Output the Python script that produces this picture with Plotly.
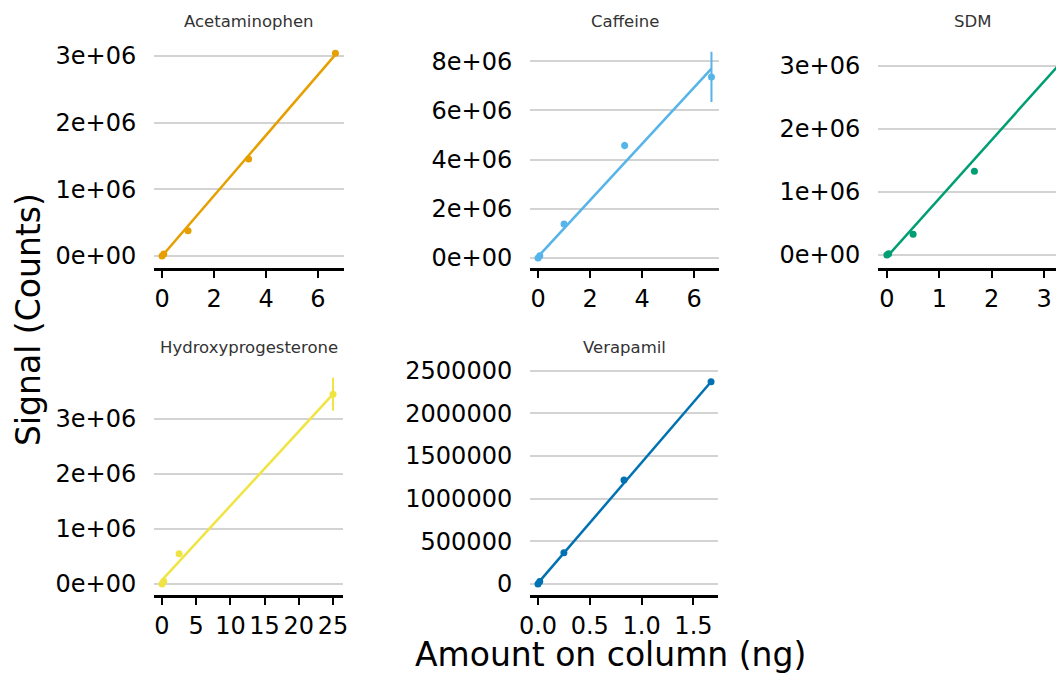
import plotly.graph_objects as go

# ---------------- data ----------------
compounds = ["Acetaminophen", "Caffeine", "SDM", "Hydroxyprogesterone", "Verapamil"]
colors = ["#E69F00", "#56B4E9", "#009E73", "#F0E442", "#0072B2"]

acet_x = [0, 0.067, 1.0, 3.33, 6.67]
acet_y = [0, 30000, 378000, 1455000, 3040000]
acet_err = [0, 0, 0, 20000, 20000]

caff_x = [0, 0.067, 1.0, 3.33, 6.67]
caff_y = [0, 90000, 1380000, 4570000, 7360000]
caff_err = [0, 0, 60000, 150000, 1020000]

sdm_x = [0, 0.033, 0.5, 1.67, 3.33]
sdm_y = [0, 20000, 330000, 1330000, 3200000]
sdm_err = [0, 0, 20000, 40000, 20000]

ohp_x = [0, 0.25, 2.5, 25.0]
ohp_y = [0, 50000, 550000, 3450000]
ohp_err = [0, 0, 20000, 300000]

vera_x = [0, 0.017, 0.25, 0.83, 1.67]
vera_y = [0, 30000, 365000, 1220000, 2370000]
vera_err = [0, 0, 10000, 20000, 20000]

# fitted calibration lines: value at x=0 and at the largest amount
fit_start = [0, 50000, -30000, 70000, 10000]
fit_end = [3020000, 7700000, 3060000, 3450000, 2370000]

# tick values / labels
x_ticks = [[0, 2, 4, 6], [0, 2, 4, 6], [0, 1, 2, 3], [0, 5, 10, 15, 20, 25], [0.0, 0.5, 1.0, 1.5]]
x_ticktext = [["0", "2", "4", "6"], ["0", "2", "4", "6"], ["0", "1", "2", "3"],
              ["0", "5", "10", "15", "20", "25"], ["0.0", "0.5", "1.0", "1.5"]]
y_ticks = [[0, 1e6, 2e6, 3e6], [0, 2e6, 4e6, 6e6, 8e6], [0, 1e6, 2e6, 3e6], [0, 1e6, 2e6, 3e6],
           [0, 500000, 1000000, 1500000, 2000000, 2500000]]
y_ticktext = [["0e+00", "1e+06", "2e+06", "3e+06"],
              ["0e+00", "2e+06", "4e+06", "6e+06", "8e+06"],
              ["0e+00", "1e+06", "2e+06", "3e+06"],
              ["0e+00", "1e+06", "2e+06", "3e+06"],
              ["0", "500000", "1000000", "1500000", "2000000", "2500000"]]

xs = [acet_x, caff_x, sdm_x, ohp_x, vera_x]
ys = [acet_y, caff_y, sdm_y, ohp_y, vera_y]
errs = [acet_err, caff_err, sdm_err, ohp_err, vera_err]

# ---------------- layout (pixel geometry of the 1064x673 window) ----------------
OFF = 8                       # page body margin of the browser
W, H = 1064 - OFF, 673 - OFF  # figure size so that it fills the window
px_x = [(154, 344), (530, 719), (878, 1064), (154, 343), (530, 718)]
px_y = [(40, 268), (40, 268), (40, 268), (365, 595), (365, 595)]
x_ranges = [(-0.31, 7.0), (-0.31, 6.96), (-0.17, 3.38), (-1.17, 26.46), (-0.077, 1.737)]
y_ranges = [(-0.18e6, 3.24e6), (-0.41e6, 8.86e6), (-0.206e6, 3.41e6), (-0.2e6, 3.98e6), (-0.129e6, 2.567e6)]


def fx(p):
    return (p - OFF) / W


def fy(p):
    return 1 - (p - OFF) / H


FONT = "DejaVu Sans"
fig = go.Figure()
layout = {}
annotations = []

for i in range(5):
    n = "" if i == 0 else str(i + 1)
    xa, ya = "x" + n, "y" + n
    c = colors[i]
    fig.add_trace(go.Scatter(
        x=xs[i], y=ys[i], mode="markers", xaxis=xa, yaxis=ya,
        marker=dict(color=c, size=7),
        error_y=dict(type="data", array=errs[i], visible=True, color=c, thickness=2, width=0),
        showlegend=False, hoverinfo="x+y"))
    fig.add_trace(go.Scatter(
        x=[0, max(xs[i])], y=[fit_start[i], fit_end[i]], mode="lines", xaxis=xa, yaxis=ya,
        line=dict(color=c, width=2.5), showlegend=False, hoverinfo="skip"))

    x0, x1 = px_x[i]
    top, bot = px_y[i]
    layout["xaxis" + n] = dict(
        domain=[fx(x0), min(1.0, fx(x1))], anchor=ya, range=list(x_ranges[i]),
        showgrid=False, zeroline=False, showline=True, linecolor="black", linewidth=3,
        ticks="outside", ticklen=7, tickwidth=2, tickcolor="black",
        tickvals=x_ticks[i], ticktext=x_ticktext[i], tickangle=0,
        tickfont=dict(family=FONT, size=24, color="black"), automargin=False)
    layout["yaxis" + n] = dict(
        domain=[fy(bot), fy(top)], anchor=xa, range=list(y_ranges[i]),
        showgrid=True, gridcolor="#d3d3d3", gridwidth=2, zeroline=False, showline=False,
        ticks="outside", ticklen=12, tickcolor="rgba(0,0,0,0)",
        tickvals=y_ticks[i], ticktext=y_ticktext[i],
        tickfont=dict(family=FONT, size=24, color="black"), automargin=False)
    title_y = 21.5 if i < 3 else 347
    right = 1067 if i == 2 else x1
    annotations.append(dict(
        text=compounds[i], x=fx((x0 + right) / 2), y=fy(title_y),
        xref="paper", yref="paper", xanchor="center", yanchor="middle", showarrow=False,
        font=dict(family=FONT, size=16.5, color="#333333")))

annotations.append(dict(
    text="Signal (Counts)", x=fx(28), y=fy(320), xref="paper", yref="paper",
    xanchor="center", yanchor="middle", textangle=-90, showarrow=False,
    font=dict(family=FONT, size=33, color="black")))
annotations.append(dict(
    text="Amount on column (ng)", x=fx(610), y=fy(654), xref="paper", yref="paper",
    xanchor="center", yanchor="middle", showarrow=False,
    font=dict(family=FONT, size=33, color="black")))

fig.update_layout(
    width=W, height=H, margin=dict(l=0, r=0, t=0, b=0),
    paper_bgcolor="white", plot_bgcolor="white",
    font=dict(family=FONT), annotations=annotations, **layout)

fig.write_html("out.html")
